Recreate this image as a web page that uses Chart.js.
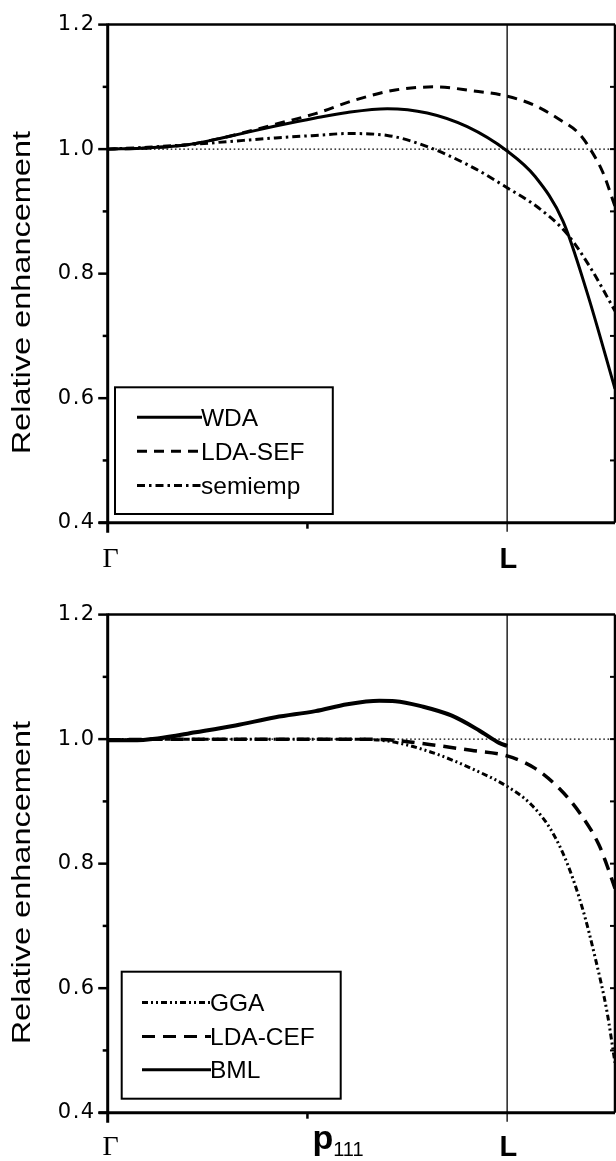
<!DOCTYPE html>
<html>
<head>
<meta charset="utf-8">
<script src="https://cdn.jsdelivr.net/npm/chart.js@4.4.1/dist/chart.umd.min.js"></script>
<style>
  html, body { margin: 0; padding: 0; background: #fff; }
  #wrap { position: relative; width: 616px; height: 1161px; overflow: hidden; }
  canvas { position: absolute; left: 0; }
  #top { top: 0; }
  #bottom { top: 590px; }
</style>
</head>
<body>
<div id="wrap">
  <canvas id="top" width="616" height="590"></canvas>
  <canvas id="bottom" width="616" height="571"></canvas>
</div>
<script>
// ---- axes ----
const yTickValues = [0.4, 0.6, 0.8, 1.0, 1.2];
const yTickLabels = ['0.4', '0.6', '0.8', '1.0', '1.2'];
const yMinorValues = [0.5, 0.7, 0.9, 1.1];
const yRightValues = [0.5, 0.6, 0.7, 0.8, 0.9, 1.0, 1.1];
const yAxisTitle = 'Relative enhancement';
const xTickValues = [0, 0.5, 1.0];          // Γ, p111, L
const xLabelMainTop = ['Γ', '', 'L'];
const xLabelMainBottom = ['Γ', 'p', 'L'];
const xLabelSubBottom = ['', '111', ''];
const xMax = 1.27;
const unityLevel = 1.0;
const zoneBoundary = 1.0;                   // L point

// ---- upper panel ----
const wdaX = [0, 0.1, 0.2, 0.3, 0.42, 0.52, 0.6, 0.7, 0.8, 0.9, 1.0, 1.07, 1.14, 1.2, 1.27];
const wdaY = [1.000, 1.002, 1.007, 1.020, 1.037, 1.050, 1.059, 1.065, 1.058, 1.036, 0.997, 0.956, 0.884, 0.770, 0.615];

const ldaSefX = [0, 0.1, 0.2, 0.3, 0.42, 0.52, 0.62, 0.72, 0.82, 0.91, 1.0, 1.07, 1.13, 1.18, 1.21, 1.24, 1.27];
const ldaSefY = [1.000, 1.002, 1.007, 1.020, 1.040, 1.057, 1.079, 1.095, 1.100, 1.094, 1.085, 1.070, 1.048, 1.025, 0.998, 0.962, 0.908];

const semiempX = [0, 0.1, 0.2, 0.3, 0.42, 0.52, 0.6, 0.7, 0.8, 0.91, 1.0, 1.08, 1.15, 1.21, 1.27];
const semiempY = [1.000, 1.003, 1.007, 1.012, 1.018, 1.022, 1.025, 1.022, 1.004, 0.972, 0.938, 0.905, 0.864, 0.808, 0.740];

// ---- lower panel ----
const ggaX = [0, 0.2, 0.4, 0.6, 0.7, 0.81, 0.91, 1.0, 1.06, 1.11, 1.15, 1.19, 1.22, 1.25, 1.27];
const ggaY = [0.999, 1.000, 1.000, 1.000, 0.997, 0.979, 0.953, 0.924, 0.895, 0.854, 0.801, 0.725, 0.650, 0.562, 0.480];

const ldaCefX = [0, 0.2, 0.4, 0.6, 0.72, 0.81, 0.91, 1.0, 1.07, 1.13, 1.18, 1.23, 1.25, 1.27];
const ldaCefY = [0.999, 1.000, 1.000, 1.000, 0.998, 0.991, 0.982, 0.973, 0.953, 0.921, 0.883, 0.830, 0.797, 0.760];

const bmlX = [0, 0.06, 0.125, 0.22, 0.32, 0.42, 0.52, 0.6, 0.68, 0.72, 0.79, 0.86, 0.93, 0.98, 1.0];
const bmlY = [0.998, 0.998, 1.001, 1.011, 1.022, 1.035, 1.045, 1.056, 1.0615, 1.061, 1.052, 1.038, 1.014, 0.994, 0.989];

const SANS = "'Liberation Sans', Arial, Helvetica, sans-serif";
const WIDE = "'DejaVu Sans', Verdana, sans-serif";
const SERIF = "'Liberation Serif', 'Times New Roman', serif";

function points(xs, ys) {
  return xs.map((x, i) => ({ x, y: ys[i] }));
}

function series(label, xs, ys, width, dash) {
  return {
    label,
    data: points(xs, ys),
    borderColor: '#000',
    borderWidth: width,
    borderDash: dash,
    pointRadius: 0,
    fill: false,
    cubicInterpolationMode: 'monotone',
    borderCapStyle: 'butt'
  };
}

// frame, ticks, reference lines, axis labels and legend
const decorations = {
  id: 'decorations',
  beforeDraw(chart) {
    chart.ctx.letterSpacing = '1.5px';
  },
  beforeDatasetsDraw(chart) {
    const { ctx, chartArea: a, scales: { x, y } } = chart;
    ctx.letterSpacing = '0px';
    ctx.save();
    ctx.strokeStyle = '#000';
    ctx.lineWidth = 1.2;
    ctx.setLineDash([1.6, 2.6]);
    const yu = y.getPixelForValue(unityLevel);
    ctx.beginPath(); ctx.moveTo(a.left, yu); ctx.lineTo(a.right, yu); ctx.stroke();
    ctx.setLineDash([]);
    ctx.lineWidth = 1.5;
    ctx.strokeStyle = '#222';
    const xl = x.getPixelForValue(zoneBoundary);
    ctx.beginPath(); ctx.moveTo(xl, a.top); ctx.lineTo(xl, a.bottom + 9); ctx.stroke();
    ctx.restore();
  },
  afterDraw(chart, args, opts) {
    const { ctx, chartArea: a, scales: { x, y } } = chart;
    ctx.save();
    ctx.letterSpacing = '0px';
    ctx.strokeStyle = '#000';
    ctx.fillStyle = '#000';
    ctx.lineCap = 'butt';

    // plot frame
    ctx.lineWidth = 2.5;
    ctx.beginPath(); ctx.moveTo(a.left, a.top); ctx.lineTo(a.right, a.top); ctx.stroke();
    ctx.beginPath(); ctx.moveTo(a.right, a.top); ctx.lineTo(a.right, a.bottom); ctx.stroke();
    ctx.lineWidth = 3;
    ctx.beginPath(); ctx.moveTo(a.left, a.top - 1); ctx.lineTo(a.left, a.bottom + 10); ctx.stroke();
    ctx.beginPath(); ctx.moveTo(a.left - 9, a.bottom); ctx.lineTo(a.right, a.bottom); ctx.stroke();

    // left ticks (outward) and right ticks (inward)
    ctx.lineWidth = 2.5;
    yTickValues.forEach(v => {
      const py = y.getPixelForValue(v);
      ctx.beginPath(); ctx.moveTo(a.left - 9.5, py); ctx.lineTo(a.left, py); ctx.stroke();
    });
    yMinorValues.forEach(v => {
      const py = y.getPixelForValue(v);
      ctx.beginPath(); ctx.moveTo(a.left - 5, py); ctx.lineTo(a.left, py); ctx.stroke();
    });
    ctx.lineWidth = 2;
    yRightValues.forEach(v => {
      const py = y.getPixelForValue(v);
      ctx.beginPath(); ctx.moveTo(a.right - 5, py); ctx.lineTo(a.right, py); ctx.stroke();
    });
    // middle tick on the bottom axis
    ctx.lineWidth = 2.5;
    const xm = x.getPixelForValue(xTickValues[1]);
    ctx.beginPath(); ctx.moveTo(xm, a.bottom); ctx.lineTo(xm, a.bottom + 6); ctx.stroke();

    // x-axis point labels
    const base = a.bottom + opts.labelDrop;
    const x0 = x.getPixelForValue(xTickValues[0]);
    const x2 = x.getPixelForValue(xTickValues[2]);
    ctx.textBaseline = 'alphabetic';
    ctx.textAlign = 'center';
    ctx.font = '28px ' + SERIF;
    ctx.fillText(opts.main[0], x0 + 2.8, base);
    ctx.font = 'bold 29px ' + SANS;
    ctx.fillText(opts.main[2], x2 + 1.2, base + 1);
    if (opts.main[1]) {
      ctx.textAlign = 'left';
      ctx.font = 'bold 34px ' + SANS;
      ctx.fillText(opts.main[1], xm + 5, base - 6.5);
      const w = ctx.measureText(opts.main[1]).width;
      ctx.font = '20px ' + SANS;
      ctx.fillText(opts.sub[1], xm + 5 + w, base + 1);
    }

    // axis title, set in a broad face along its baseline
    ctx.save();
    ctx.font = '25px ' + SANS;
    ctx.translate(29.5, (a.top + a.bottom) / 2 + 19);
    ctx.rotate(-Math.PI / 2);
    ctx.scale(1.3, 1);
    ctx.textAlign = 'center';
    ctx.textBaseline = 'alphabetic';
    ctx.fillText(yAxisTitle, 0, 0);
    ctx.restore();

    // legend
    const L = opts.legend;
    ctx.fillStyle = '#fff';
    ctx.fillRect(L.x, L.y, L.w, L.h);
    ctx.lineWidth = 2;
    ctx.strokeStyle = '#000';
    ctx.strokeRect(L.x, L.y, L.w, L.h);
    ctx.fillStyle = '#000';
    ctx.font = '24.5px ' + SANS;
    ctx.textAlign = 'left';
    chart.data.datasets.forEach((ds, i) => {
      const ry = L.rows[i];
      ctx.save();
      ctx.lineWidth = Math.min(ds.borderWidth, 3);
      ctx.setLineDash(ds.borderDash || []);
      ctx.beginPath(); ctx.moveTo(L.x1, ry); ctx.lineTo(L.x2, ry); ctx.stroke();
      ctx.restore();
      ctx.fillText(ds.label, L.x2 - 1, ry + 8.5);
    });
    ctx.restore();
  }
};

function panel(canvasId, datasets, height, opts) {
  return new Chart(document.getElementById(canvasId), {
    type: 'line',
    data: { datasets },
    options: {
      responsive: false,
      animation: false,
      devicePixelRatio: 1,
      layout: { padding: { left: 0, top: 14.7, right: 1, bottom: height - 522.7 } },
      plugins: { legend: { display: false }, tooltip: { enabled: false }, decorations: opts },
      scales: {
        x: { type: 'linear', min: 0, max: xMax, display: false },
        y: {
          type: 'linear', min: 0.4, max: 1.2,
          afterBuildTicks: s => { s.ticks = yTickValues.map(v => ({ value: v })); },
          afterFit: s => { s.width = 107.7; },
          grid: { display: false, drawTicks: false },
          border: { display: false },
          ticks: {
            color: '#000',
            padding: 12,
            font: { family: WIDE, size: 21 },
            callback: (v, i) => yTickLabels[i]
          }
        }
      }
    },
    plugins: [decorations]
  });
}

panel('top', [
  series('WDA', wdaX, wdaY, 3, []),
  series('LDA-SEF', ldaSefX, ldaSefY, 3, [10, 7]),
  series('semiemp', semiempX, semiempY, 3, [8, 4, 2.5, 4])
], 590, {
  labelDrop: 44.3,
  main: xLabelMainTop,
  sub: ['', '', ''],
  legend: { x: 115, y: 387.3, w: 217.8, h: 126.7, x1: 137, x2: 202, rows: [417.3, 451.3, 485.4] }
});

panel('bottom', [
  series('GGA', ggaX, ggaY, 3, [6, 3, 2, 3, 2, 3]),
  series('LDA-CEF', ldaCefX, ldaCefY, 3.5, [13, 8]),
  series('BML', bmlX, bmlY, 4, [])
], 571, {
  labelDrop: 42.3,
  main: xLabelMainBottom,
  sub: xLabelSubBottom,
  legend: { x: 121.7, y: 381.7, w: 219, h: 127, x1: 142, x2: 211, rows: [412.4, 446.5, 479.8] }
});
</script>
</body>
</html>
